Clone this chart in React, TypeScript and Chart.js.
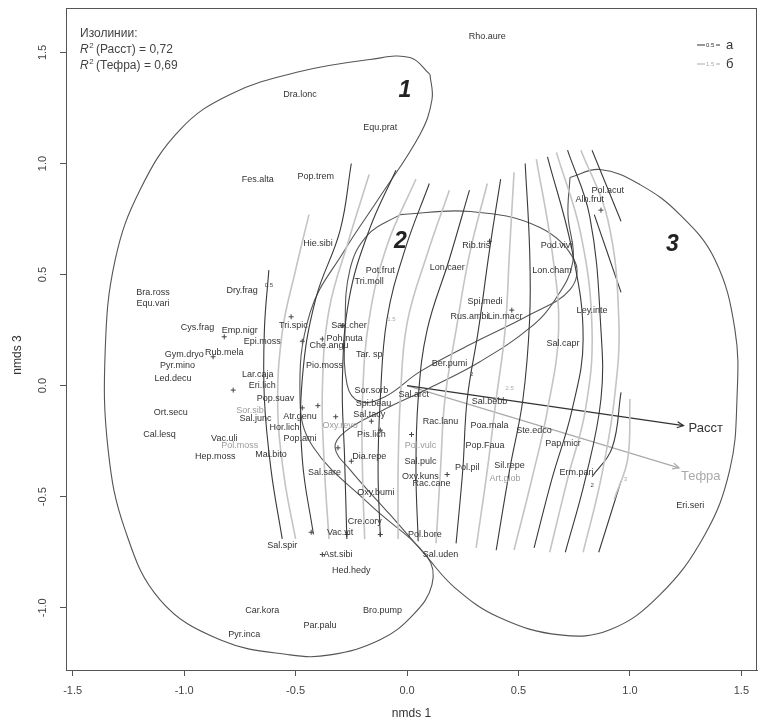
import React, { useEffect, useRef } from "react";
import { Chart, registerables } from "chart.js";

Chart.register(...registerables);

const FONT = "'Liberation Sans', Arial, Helvetica, sans-serif";

type P = [number, number];

const xTicks = [-1.5, -1.0, -0.5, 0.0, 0.5, 1.0, 1.5];
const yTicks = [-1.0, -0.5, 0.0, 0.5, 1.0, 1.5];
const xRange = [-1.53, 1.57];
const yRange = [-1.28, 1.70];

// isolines "Расст" (а, black)
const blackIso: P[][] = [
  [[-0.62, 0.52], [-0.64, 0.25], [-0.64, -0.06], [-0.61, -0.38], [-0.56, -0.69]],
  [[-0.25, 1.0], [-0.3, 0.7], [-0.41, 0.39], [-0.47, 0.03], [-0.47, -0.33], [-0.42, -0.67]],
  [[-0.05, 0.97], [-0.17, 0.7], [-0.26, 0.39], [-0.29, 0.03], [-0.28, -0.33], [-0.27, -0.69]],
  [[0.1, 0.91], [-0.01, 0.61], [-0.09, 0.3], [-0.12, -0.06], [-0.13, -0.38], [-0.12, -0.68]],
  [[0.28, 0.88], [0.19, 0.57], [0.09, 0.25], [0.05, -0.06], [0.04, -0.38], [0.05, -0.7]],
  [[0.42, 0.93], [0.37, 0.61], [0.32, 0.25], [0.27, -0.06], [0.25, -0.38], [0.22, -0.71]],
  [[0.53, 1.0], [0.55, 0.61], [0.55, 0.3], [0.52, -0.06], [0.46, -0.38], [0.4, -0.74]],
  [[0.63, 1.03], [0.74, 0.61], [0.79, 0.21], [0.74, -0.11], [0.65, -0.42], [0.57, -0.73]],
  [[0.72, 1.06], [0.82, 0.76], [0.87, 0.25], [0.87, -0.06], [0.8, -0.42], [0.71, -0.75]],
  [[0.83, 1.06], [0.96, 0.74]],
  [[0.84, 0.77], [0.96, 0.42]],
  [[0.96, -0.03], [0.92, -0.28], [0.83, -0.41]],
  [[0.96, -0.43], [0.86, -0.75]],
];

// isolines "Тефра" (б, gray)
const grayIso: P[][] = [
  [[-0.44, 0.77], [-0.5, 0.52], [-0.56, 0.24], [-0.58, -0.11], [-0.55, -0.42], [-0.5, -0.69]],
  [[-0.17, 0.95], [-0.26, 0.66], [-0.35, 0.34], [-0.38, -0.02], [-0.37, -0.38], [-0.35, -0.69]],
  [[0.04, 0.93], [-0.09, 0.63], [-0.17, 0.3], [-0.2, -0.06], [-0.2, -0.38], [-0.19, -0.69]],
  [[0.19, 0.88], [0.09, 0.59], [0.0, 0.28], [-0.03, -0.06], [-0.04, -0.38], [-0.04, -0.69]],
  [[0.36, 0.91], [0.28, 0.59], [0.22, 0.25], [0.17, -0.06], [0.15, -0.38], [0.13, -0.71]],
  [[0.48, 0.96], [0.46, 0.61], [0.44, 0.25], [0.4, -0.06], [0.36, -0.38], [0.31, -0.73]],
  [[0.58, 1.02], [0.65, 0.61], [0.68, 0.25], [0.63, -0.11], [0.56, -0.42], [0.48, -0.74]],
  [[0.67, 1.05], [0.78, 0.68], [0.83, 0.25], [0.8, -0.11], [0.72, -0.42], [0.64, -0.75]],
  [[0.78, 1.06], [0.9, 0.75], [0.95, 0.3], [0.93, -0.06], [0.87, -0.42], [0.79, -0.75]],
  [[1.0, -0.06], [0.99, -0.33], [0.93, -0.51]],
];

// group outlines
const hull1: P[] = [
  [0.103, 1.401], [0.112, 1.288], [0.058, 1.131], [-0.13, 0.838], [-0.278, 0.613], [-0.435, 0.329],
  [-0.48, -0.063], [-0.422, -0.275], [-0.166, -0.536], [0.09, -0.77], [0.112, -0.896], [0.027, -1.032],
  [-0.121, -1.144], [-0.345, -1.212], [-0.525, -1.212], [-0.839, -1.144], [-1.108, -0.964], [-1.265, -0.649],
  [-1.341, -0.288], [-1.354, 0.162], [-1.309, 0.568], [-1.197, 0.883], [-1.018, 1.153], [-0.794, 1.311],
  [-0.48, 1.414], [-0.166, 1.468], [0.013, 1.477],
];
const hull2: P[] = [
  [-0.031, 0.77], [0.283, 0.784], [0.596, 0.712], [0.753, 0.559], [0.731, 0.432], [0.552, 0.32],
  [0.283, 0.185], [0.058, 0.063], [-0.099, -0.05], [-0.211, -0.072], [-0.269, 0.005], [-0.278, 0.252],
  [-0.256, 0.523], [-0.175, 0.68],
];
const hull3: P[] = [
  [0.731, 0.937], [0.865, 0.973], [1.045, 0.905], [1.224, 0.77], [1.381, 0.568], [1.471, 0.252],
  [1.48, -0.063], [1.448, -0.378], [1.336, -0.671], [1.135, -0.941], [0.91, -1.099], [0.686, -1.122],
  [0.417, -1.045], [0.215, -0.91], [0.081, -0.761], [-0.076, -0.581], [-0.256, -0.378], [-0.323, -0.279],
  [-0.278, -0.207], [-0.121, -0.117], [0.103, -0.009], [0.327, 0.108], [0.552, 0.261], [0.664, 0.387],
  [0.744, 0.559], [0.722, 0.77],
];
const hullNumbers: [string, number, number][] = [
  ["1", -0.01, 1.33],
  ["2", -0.03, 0.65],
  ["3", 1.19, 0.635],
];

// environmental vectors
const arrowOrigin: P = [0.0, 0.0];
const arrowRasst: P = [1.24, -0.18];
const arrowTefra: P = [1.22, -0.37];

// species labels
const species: [string, number, number][] = [
  ["Rho.aure", 0.36, 1.57], ["Dra.lonc", -0.48, 1.31], ["Equ.prat", -0.12, 1.16],
  ["Fes.alta", -0.67, 0.93], ["Pop.trem", -0.41, 0.94], ["Hie.sibi", -0.4, 0.64],
  ["Pot.frut", -0.12, 0.52], ["Tri.moll", -0.17, 0.47], ["Lon.caer", 0.18, 0.53],
  ["Rib.tris", 0.31, 0.63], ["Pod.vivi", 0.67, 0.63], ["Lon.cham", 0.65, 0.52],
  ["Pol.acut", 0.9, 0.88], ["Aln.frut", 0.82, 0.84], ["Ley.inte", 0.83, 0.34],
  ["Sal.capr", 0.7, 0.19], ["Spi.medi", 0.35, 0.38], ["Rus.ambi", 0.28, 0.31],
  ["Lin.macr", 0.44, 0.31], ["Ber.pumi", 0.19, 0.1], ["Bra.ross", -1.14, 0.42],
  ["Equ.vari", -1.14, 0.37], ["Dry.frag", -0.74, 0.43], ["Cys.frag", -0.94, 0.26],
  ["Emp.nigr", -0.75, 0.25], ["Tri.spic", -0.51, 0.27], ["Sax.cher", -0.26, 0.27],
  ["Epi.moss", -0.65, 0.2], ["Poh.nuta", -0.28, 0.21], ["Che.angu", -0.35, 0.18],
  ["Gym.dryo", -1.0, 0.14], ["Pyr.mino", -1.03, 0.09], ["Rub.mela", -0.82, 0.15],
  ["Tar. sp", -0.17, 0.14], ["Pio.moss", -0.37, 0.09], ["Led.decu", -1.05, 0.03],
  ["Lar.caja", -0.67, 0.05], ["Eri.lich", -0.65, 0.0], ["Sor.sorb", -0.16, -0.02],
  ["Sal.arct", 0.03, -0.04], ["Pop.suav", -0.59, -0.06], ["Spi.beau", -0.15, -0.08],
  ["Sal.bebb", 0.37, -0.07], ["Ort.secu", -1.06, -0.12], ["Sor.sibi", -0.7, -0.11],
  ["Sal.junc", -0.68, -0.15], ["Atr.genu", -0.48, -0.14], ["Sal.tacy", -0.17, -0.13],
  ["Oxy.revo", -0.3, -0.18], ["Hor.lich", -0.55, -0.19], ["Rac.lanu", 0.15, -0.16],
  ["Poa.mala", 0.37, -0.18], ["Ste.edco", 0.57, -0.2], ["Cal.lesq", -1.11, -0.22],
  ["Pis.lich", -0.16, -0.22], ["Pol.vulc", 0.06, -0.27], ["Pop.Faua", 0.35, -0.27],
  ["Pap.micr", 0.7, -0.26], ["Pop.ami", -0.48, -0.24], ["Vac.uli", -0.82, -0.24],
  ["Pol.moss", -0.75, -0.27], ["Mal.bito", -0.61, -0.31], ["Hep.moss", -0.86, -0.32],
  ["Dia.repe", -0.17, -0.32], ["Sal.pulc", 0.06, -0.34], ["Pol.pil", 0.27, -0.37],
  ["Sil.repe", 0.46, -0.36], ["Oxy.kuns", 0.06, -0.41], ["Rac.cane", 0.11, -0.44],
  ["Art.glob", 0.44, -0.42], ["Erm.pari", 0.76, -0.39], ["Sal.sare", -0.37, -0.39],
  ["Oxy.bumi", -0.14, -0.48], ["Cre.cory", -0.19, -0.61], ["Pol.bore", 0.08, -0.67],
  ["Sal.uden", 0.15, -0.76], ["Vac.vit", -0.3, -0.66], ["Sal.spir", -0.56, -0.72],
  ["Ast.sibi", -0.31, -0.76], ["Hed.hedy", -0.25, -0.83], ["Eri.seri", 1.27, -0.54],
  ["Car.kora", -0.65, -1.01], ["Bro.pump", -0.11, -1.01], ["Par.palu", -0.39, -1.08],
  ["Pyr.inca", -0.73, -1.12],
];
const graySpecies = ["Sor.sibi", "Pol.moss", "Pol.vulc", "Art.glob", "Oxy.revo"];

// unlabeled species points
const speciesPoints: P[] = [
  [0.37, 0.65], [-0.52, 0.31], [-0.47, 0.2], [-0.38, 0.21], [-0.87, 0.13], [-0.82, 0.22],
  [-0.78, -0.02], [-0.29, 0.27], [-0.4, -0.09], [-0.47, -0.1], [-0.32, -0.14], [-0.12, -0.2],
  [-0.16, -0.16], [-0.31, -0.28], [0.02, -0.22], [0.18, -0.4], [-0.25, -0.34], [-0.43, -0.66],
  [-0.27, -0.67], [-0.12, -0.67], [-0.38, -0.76], [0.47, 0.34], [0.87, 0.79],
];

// isoline level labels
const levelLabels: [string, number, number, string][] = [
  ["0.5", -0.62, 0.45, "k"], ["1.5", -0.07, 0.3, "g"], ["2", 0.29, 0.05, "k"],
  ["2.5", 0.46, -0.01, "g"], ["2", 0.83, -0.45, "k"], ["3", 0.98, -0.42, "g"],
];

const legendLines = ["Изолинии:", " (Расст) = 0,72", " (Тефра) = 0,69"];

const toPts = (a: P[]) => a.map(([x, y]) => ({ x, y }));

const annotPlugin = {
  id: "annot",
  afterDatasetsDraw(chart: any) {
    const ctx: CanvasRenderingContext2D = chart.ctx;
    const xs = chart.scales.x;
    const ys = chart.scales.y;
    const px = (v: number) => xs.getPixelForValue(v);
    const py = (v: number) => ys.getPixelForValue(v);
    const a = chart.chartArea;
    ctx.save();

    // arrow heads
    const head = (end: P, color: string) => {
      const x0 = px(arrowOrigin[0]), y0 = py(arrowOrigin[1]);
      const x1 = px(end[0]), y1 = py(end[1]);
      const ang = Math.atan2(y1 - y0, x1 - x0);
      ctx.strokeStyle = color;
      ctx.lineWidth = 1.3;
      ctx.beginPath();
      ctx.moveTo(x1 - 7 * Math.cos(ang - 0.45), y1 - 7 * Math.sin(ang - 0.45));
      ctx.lineTo(x1, y1);
      ctx.lineTo(x1 - 7 * Math.cos(ang + 0.45), y1 - 7 * Math.sin(ang + 0.45));
      ctx.stroke();
    };
    head(arrowRasst, "#333");
    head(arrowTefra, "#aaa");

    // species labels
    ctx.textAlign = "center";
    ctx.textBaseline = "middle";
    ctx.font = `9px ${FONT}`;
    for (const [n, x, y] of species) {
      ctx.fillStyle = graySpecies.includes(n) ? "#9c9c9c" : "#333";
      ctx.fillText(n, px(x), py(y));
    }

    // isoline level labels
    ctx.font = `6px ${FONT}`;
    for (const [t, x, y, c] of levelLabels) {
      ctx.fillStyle = c === "k" ? "#444" : "#aaa";
      ctx.fillText(t, px(x), py(y));
    }

    // group numbers
    ctx.font = `italic bold 23px ${FONT}`;
    ctx.fillStyle = "#222";
    for (const [t, x, y] of hullNumbers) ctx.fillText(t, px(x), py(y));

    // vector labels
    ctx.textAlign = "left";
    ctx.font = `13px ${FONT}`;
    ctx.fillStyle = "#333";
    ctx.fillText("Расст", px(arrowRasst[0]) + 5, py(arrowRasst[1]) + 3);
    ctx.fillStyle = "#aaa";
    ctx.fillText("Тефра", px(arrowTefra[0]) + 2, py(arrowTefra[1]) + 9);

    // top-left annotation
    ctx.textBaseline = "alphabetic";
    ctx.fillStyle = "#444";
    ctx.font = `12px ${FONT}`;
    const lx = a.left + 14;
    ctx.fillText(legendLines[0], lx, a.top + 29);
    for (let i = 1; i < 3; i++) {
      const by = a.top + 29 + 16 * i;
      ctx.font = `italic 12px ${FONT}`;
      ctx.fillText("R", lx, by);
      const w = ctx.measureText("R").width;
      ctx.font = `8px ${FONT}`;
      ctx.fillText("2", lx + w + 0.5, by - 5);
      ctx.font = `12px ${FONT}`;
      ctx.fillText(legendLines[i], lx + w + 4, by);
    }

    // top-right legend
    const rows: [string, string, string, number][] = [
      ["0.5", "а", "#333", a.top + 37],
      ["1.5", "б", "#aaa", a.top + 56],
    ];
    for (const [lv, lab, col, yy] of rows) {
      ctx.strokeStyle = col;
      ctx.lineWidth = 1.2;
      ctx.beginPath();
      ctx.moveTo(a.right - 60, yy);
      ctx.lineTo(a.right - 52, yy);
      ctx.moveTo(a.right - 41, yy);
      ctx.lineTo(a.right - 37, yy);
      ctx.stroke();
      ctx.fillStyle = col;
      ctx.font = `6px ${FONT}`;
      ctx.textBaseline = "middle";
      ctx.fillText(lv, a.right - 51, yy);
      ctx.fillStyle = "#333";
      ctx.font = `13px ${FONT}`;
      ctx.fillText(lab, a.right - 31, yy);
    }

    // box
    ctx.strokeStyle = "#555";
    ctx.lineWidth = 1;
    ctx.strokeRect(a.left + 0.5, a.top + 0.5, a.right - a.left - 1, a.bottom - a.top);

    // y tick labels (rotated, R style)
    ctx.fillStyle = "#444";
    ctx.font = `11px ${FONT}`;
    ctx.textAlign = "center";
    ctx.textBaseline = "middle";
    for (const v of yTicks) {
      ctx.save();
      ctx.translate(a.left - 23, py(v));
      ctx.rotate(-Math.PI / 2);
      ctx.fillText(v.toFixed(1), 0, 0);
      ctx.restore();
    }

    // axis titles
    ctx.font = `12px ${FONT}`;
    ctx.fillStyle = "#333";
    ctx.fillText("nmds 1", (a.left + a.right) / 2, a.bottom + 44);
    ctx.save();
    ctx.translate(18, (a.top + a.bottom) / 2 + 16);
    ctx.rotate(-Math.PI / 2);
    ctx.fillText("nmds 3", 0, 0);
    ctx.restore();

    ctx.restore();
  },
};

export default function App() {
  const ref = useRef<HTMLCanvasElement | null>(null);

  useEffect(() => {
    if (!ref.current) return;
    const line = (pts: P[], color: string, width: number, closed = false) => ({
      data: toPts(closed ? [...pts, pts[0]] : pts),
      showLine: true,
      borderColor: color,
      borderWidth: width,
      pointRadius: 0,
      tension: 0.4,
      fill: false,
    });
    const datasets: any[] = [
      ...grayIso.map((l) => line(l, "#c4c4c4", 1.6)),
      ...blackIso.map((l) => line(l, "#3a3a3a", 1.1)),
      line(hull1, "#555", 1.1, true),
      line(hull2, "#555", 1.1, true),
      line(hull3, "#555", 1.1, true),
      { ...line([arrowOrigin, arrowRasst], "#333", 1.3), tension: 0 },
      { ...line([arrowOrigin, arrowTefra], "#aaa", 1.3), tension: 0 },
      {
        data: toPts(speciesPoints),
        showLine: false,
        pointStyle: "cross",
        pointRadius: 2.5,
        borderColor: "#444",
        borderWidth: 1,
        backgroundColor: "#444",
      },
    ];
    const grid = { drawOnChartArea: false, drawTicks: true, tickLength: 6, color: "#555", lineWidth: 1 };
    const chart = new Chart(ref.current, {
      type: "scatter",
      data: { datasets },
      options: {
        responsive: false,
        animation: false,
        events: [],
        layout: { padding: { left: 0, right: 10, top: 8, bottom: 0 } },
        plugins: { legend: { display: false }, tooltip: { enabled: false } },
        scales: {
          x: {
            type: "linear",
            min: xRange[0],
            max: xRange[1],
            afterBuildTicks: (s: any) => {
              s.ticks = xTicks.map((v) => ({ value: v }));
            },
            afterFit: (s: any) => {
              s.height = 52;
            },
            grid,
            border: { display: true, color: "#555" },
            ticks: {
              color: "#444",
              font: { family: FONT, size: 11 },
              padding: 8,
              maxRotation: 0,
              autoSkip: false,
              callback: (v: any) => Number(v).toFixed(1),
            },
          },
          y: {
            type: "linear",
            min: yRange[0],
            max: yRange[1],
            afterBuildTicks: (s: any) => {
              s.ticks = yTicks.map((v) => ({ value: v }));
            },
            afterFit: (s: any) => {
              s.width = 66;
            },
            grid,
            border: { display: true, color: "#555" },
            ticks: { display: false },
          },
        },
      } as any,
      plugins: [annotPlugin],
    });
    return () => chart.destroy();
  }, []);

  return (
    <div style={{ position: "absolute", left: 0, top: 0, width: 767, height: 722, background: "#fff" }}>
      <canvas ref={ref} width={767} height={722} style={{ width: 767, height: 722, display: "block" }} />
    </div>
  );
}
